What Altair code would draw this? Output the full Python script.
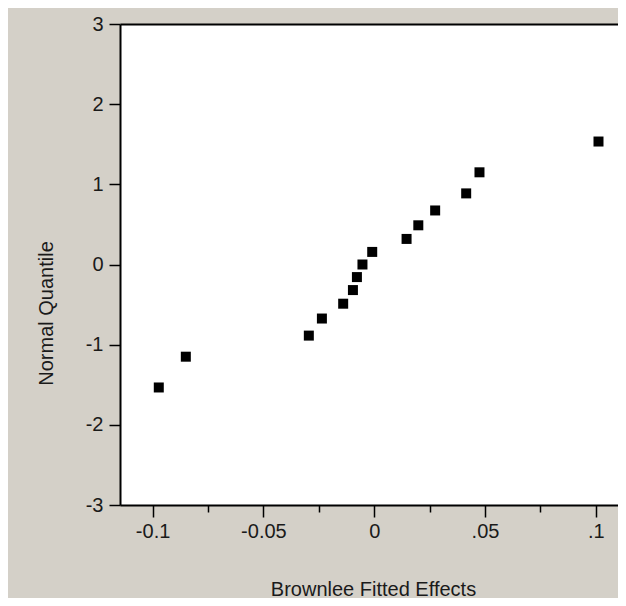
import altair as alt
import pandas as pd

# Data (Brownlee fitted effects vs normal quantiles)
x_effects = [-0.0972, -0.0850, -0.0295, -0.0236, -0.0140, -0.0096, -0.0078,
             -0.0053, -0.0009, 0.0146, 0.0199, 0.0275, 0.0415, 0.0475, 0.1012]
y_quantiles = [-1.534, -1.150, -0.887, -0.674, -0.489, -0.319, -0.157, 0.0,
               0.157, 0.319, 0.489, 0.674, 0.887, 1.150, 1.534]

x_tick_values = [-0.1, -0.075, -0.05, -0.025, 0, 0.025, 0.05, 0.075, 0.1]
x_tick_labels = ["-0.1", "", "-0.05", "", "0", "", ".05", "", ".1"]
y_tick_values = [-3, -2, -1, 0, 1, 2, 3]
y_tick_labels = ["-3", "-2", "-1", "0", "1", "2", "3"]

df = pd.DataFrame({"x": x_effects, "y": y_quantiles})


def label_expr(values, labels):
    expr = "''"
    for v, l in zip(values, labels):
        expr = f"abs(datum.value - ({v})) < 1e-9 ? '{l}' : ({expr})"
    return expr


FONT = "Liberation Sans"
FS = 20
TXT = "#1a1a1a"

x_scale = alt.Scale(domain=[-0.1147, 0.1100], nice=False, zero=False)
y_scale = alt.Scale(domain=[-3, 3], nice=False, zero=False)

x_axis = alt.Axis(
    orient="bottom",
    values=x_tick_values,
    labelExpr=label_expr(x_tick_values, x_tick_labels),
    tickSize={"condition": {"test": "abs(round(datum.value*40)) % 2 == 1", "value": 7}, "value": 12},
    tickColor="black", tickWidth=1.5,
    domainColor="black", domainWidth=2,
    grid=False,
    labelFont=FONT, labelFontSize=FS, labelColor=TXT, labelPadding=4,
    labelFlush=False, labelOverlap=False,
    title="Brownlee Fitted Effects",
    titleFont=FONT, titleFontSize=FS, titleFontWeight="normal", titleColor=TXT,
    titleBaseline="middle", titleY=84, titleX=253,
)

y_axis = alt.Axis(
    values=y_tick_values,
    labelExpr=label_expr(y_tick_values, y_tick_labels),
    tickSize=11, tickColor="black", tickWidth=1.5,
    domainColor="black", domainWidth=2,
    grid=False,
    labelFont=FONT, labelFontSize=FS, labelColor=TXT, labelPadding=6,
    labelFlush=False, labelOverlap=False,
    title="Normal Quantile",
    titleFont=FONT, titleFontSize=FS, titleFontWeight="normal", titleColor=TXT,
    titleBaseline="middle", titleAlign="center", titleX=-74, titleY=289,
)

points = alt.Chart(df).mark_square(size=100, color="black", opacity=1).encode(
    x=alt.X("x:Q", scale=x_scale, axis=x_axis),
    y=alt.Y("y:Q", scale=y_scale, axis=y_axis),
)

top_border = alt.Chart(df).mark_square(opacity=0).encode(
    x=alt.X("x:Q", scale=x_scale,
            axis=alt.Axis(orient="top", ticks=False, labels=False, title=None,
                          grid=False, domainColor="black", domainWidth=2)),
    y=alt.Y("y:Q", scale=y_scale),
)

chart = alt.layer(points, top_border).resolve_axis(x="independent").properties(
    width=498,
    height=481,
    autosize=alt.AutoSizeParams(type="none"),
    padding={"left": 112, "top": 16, "right": 0, "bottom": 93},
    background="#D4D0C8",
).configure_view(stroke=None, fill="white")

chart.save("out.html", embed_options={"renderer": "svg", "actions": False})
